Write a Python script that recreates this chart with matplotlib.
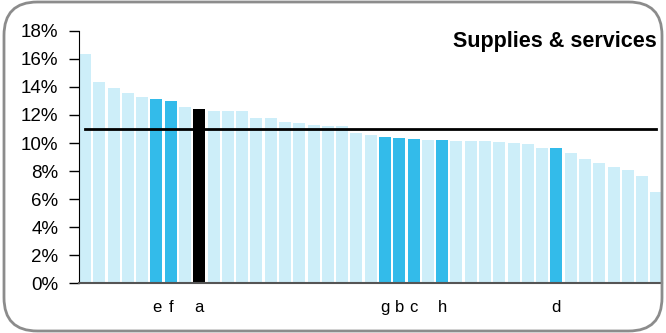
import matplotlib.pyplot as plt
from matplotlib.patches import FancyBboxPatch
import numpy as np

plt.rcParams['font.family'] = ['Liberation Sans', 'DejaVu Sans']

# valores (%), ordenados do maior para o menor
valores = [16.36, 14.36, 13.93, 13.57, 13.29, 13.14, 13.00, 12.57, 12.43, 12.29,
           12.29, 12.29, 11.79, 11.79, 11.50, 11.43, 11.29, 11.21, 11.21, 10.71,
           10.57, 10.43, 10.36, 10.29, 10.21, 10.21, 10.14, 10.14, 10.14, 10.07,
           10.00, 9.93, 9.64, 9.64, 9.29, 8.86, 8.57, 8.29, 8.07, 7.64, 6.50]
# rótulos das barras destacadas (índice -> letra)
destaques = {5: "e", 6: "f", 8: "a", 21: "g", 22: "b", 23: "c", 25: "h", 33: "d"}
destaque_preto = 8
media = 10.98
titulo = "Supplies & services"

cor_clara = "#cdeef9"
cor_azul = "#33bbea"

x = np.arange(len(valores))
cores = []
for i in x:
    if i == destaque_preto:
        cores.append("black")
    elif i in destaques:
        cores.append(cor_azul)
    else:
        cores.append(cor_clara)

fig = plt.figure(figsize=(6.66, 3.33), dpi=100)
ax = fig.add_axes([0.1186, 0.150, 0.876, 0.757])

ax.bar(x, valores, width=0.84, color=cores)
ax.plot([x[0], x[-1]], [media, media], color="black", lw=2)

ax.set_xlim(-0.42, len(valores) - 0.58)
ax.set_ylim(0, 18)
ax.set_yticks(np.arange(0, 19, 2))
ax.set_yticklabels([f"{v}%" for v in range(0, 19, 2)], fontsize=13.5)
ax.tick_params(axis="y", direction="out", length=7, width=1, pad=8)

ax.set_xticks(list(destaques.keys()))
ax.set_xticklabels(list(destaques.values()), fontsize=12)
ax.tick_params(axis="x", length=0, pad=12)

for s in ["top", "right"]:
    ax.spines[s].set_visible(False)
ax.spines["left"].set_color("black")
ax.spines["bottom"].set_color("#555555")
ax.spines["bottom"].set_linewidth(1.5)

ax.text(0.99, 1.0, titulo, transform=ax.transAxes, ha="right", va="top",
        fontsize=15.5, fontweight="bold")

# moldura arredondada
moldura = FancyBboxPatch((0.006, 0.006), 0.988, 0.988,
                         boxstyle="round,pad=0,rounding_size=0.05",
                         transform=fig.transFigure, fill=False,
                         edgecolor="#8c8c8c", lw=2, mutation_aspect=2)
fig.patches.append(moldura)

plt.savefig("out.png", dpi=100)
